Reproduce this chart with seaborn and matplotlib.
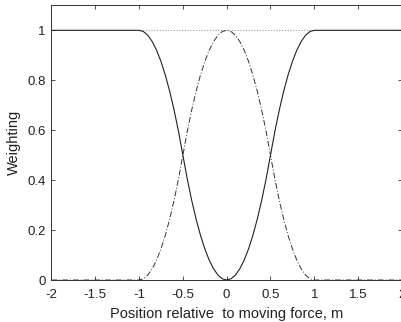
import matplotlib
matplotlib.use("Agg")
import matplotlib.pyplot as plt
import seaborn as sns
import pandas as pd

# Position relative to moving force (m)
x_pos = [-2.0, -1.0, -0.95, -0.9, -0.85, -0.8, -0.75, -0.7, -0.65, -0.6, -0.55,
         -0.5, -0.45, -0.4, -0.35, -0.3, -0.25, -0.2, -0.15, -0.1, -0.05, 0.0,
         0.05, 0.1, 0.15, 0.2, 0.25, 0.3, 0.35, 0.4, 0.45, 0.5,
         0.55, 0.6, 0.65, 0.7, 0.75, 0.8, 0.85, 0.9, 0.95, 1.0, 2.0]
# solid curve weighting
w_solid = [1.0, 1.0, 0.995, 0.98, 0.955, 0.92, 0.875, 0.82, 0.755, 0.68, 0.595,
           0.5, 0.405, 0.32, 0.245, 0.18, 0.125, 0.08, 0.045, 0.02, 0.005, 0.0,
           0.005, 0.02, 0.045, 0.08, 0.125, 0.18, 0.245, 0.32, 0.405, 0.5,
           0.595, 0.68, 0.755, 0.82, 0.875, 0.92, 0.955, 0.98, 0.995, 1.0, 1.0]
# dash-dot curve weighting
w_dashdot = [0.0, 0.0, 0.005, 0.02, 0.045, 0.08, 0.125, 0.18, 0.245, 0.32, 0.405,
             0.5, 0.595, 0.68, 0.755, 0.82, 0.875, 0.92, 0.955, 0.98, 0.995, 1.0,
             0.995, 0.98, 0.955, 0.92, 0.875, 0.82, 0.755, 0.68, 0.595, 0.5,
             0.405, 0.32, 0.245, 0.18, 0.125, 0.08, 0.045, 0.02, 0.005, 0.0, 0.0]
# dotted reference line
x_ref = [-2.0, 2.0]
w_ref = [1.0, 1.0]

x_ticks = [-2, -1.5, -1, -0.5, 0, 0.5, 1, 1.5, 2]
x_ticklabels = ["-2", "-1.5", "-1", "-0.5", "0", "0.5", "1", "1.5", "2"]
y_ticks = [0, 0.2, 0.4, 0.6, 0.8, 1]
y_ticklabels = ["0", "0.2", "0.4", "0.6", "0.8", "1"]

sns.set_theme(style="white")
plt.rcParams['font.family'] = ['Liberation Sans', 'DejaVu Sans']

df = pd.DataFrame({"x": x_pos, "solid": w_solid, "dashdot": w_dashdot})
dref = pd.DataFrame({"x": x_ref, "w": w_ref})

fig = plt.figure(figsize=(4.01, 3.22), dpi=100)
ax = fig.add_axes([0.1284, 0.1304, 0.8738, 0.853])

sns.lineplot(data=dref, x="x", y="w", ax=ax, color="#999999", lw=0.8,
             linestyle=(0, (1, 1.5)), sort=False)
sns.lineplot(data=df, x="x", y="solid", ax=ax, color="#222222", lw=0.8, sort=False)
sns.lineplot(data=df, x="x", y="dashdot", ax=ax, color="#333333", lw=0.7,
             linestyle=(0, (6, 2, 1, 2)), sort=False)

ax.set_xlim(-2, 2)
ax.set_ylim(0, 1.1)
ax.set_xticks(x_ticks)
ax.set_xticklabels(x_ticklabels)
ax.set_yticks(y_ticks)
ax.set_yticklabels(y_ticklabels)
ax.set_xlabel("Position relative  to moving force, m", fontsize=10.5, color="#222222", labelpad=4)
ax.set_ylabel("Weighting", fontsize=10.5, color="#222222", labelpad=5)
ax.tick_params(direction="in", length=3, width=0.6, colors="#333333",
               labelsize=9.5, labelcolor="#222222", top=True, right=True,
               bottom=True, left=True)
ax.tick_params(axis="x", pad=6.5)
ax.tick_params(axis="y", pad=4)
for s in ax.spines.values():
    s.set_color("#333333")
    s.set_linewidth(0.7)
ax.grid(False)

fig.savefig("out.png", dpi=100)
